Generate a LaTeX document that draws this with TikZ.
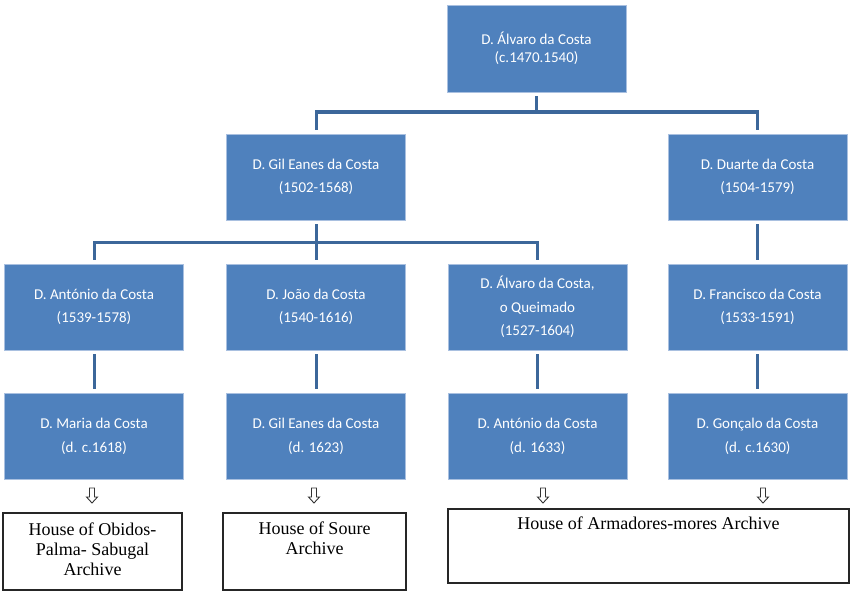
\documentclass[tikz,border=0pt]{standalone}
\usepackage{fontspec}
\setmainfont{Liberation Serif}
\newfontfamily\calib{Carlito}
\definecolor{boxblue}{HTML}{4F81BD}
\definecolor{edgeblue}{HTML}{A9C0E0}
\definecolor{linkblue}{HTML}{3C679A}
\begin{document}
\begin{tikzpicture}[x=1pt,y=-1pt,
  person/.style={fill=boxblue, draw=edgeblue, line width=0.8pt, minimum width=179pt,
    minimum height=86pt, inner sep=0pt, text=white, align=center,
    font=\calib\fontsize{15}{23.5}\selectfont},
  persontop/.style={person, minimum height=87pt, font=\calib\fontsize{15}{17.5}\selectfont},
  link/.style={draw=linkblue, line width=3pt},
  archive/.style={draw=black!85, line width=1.6pt, inner sep=0pt},
  archtext/.style={anchor=north, align=center, inner sep=0pt,
    font=\fontsize{18}{20}\selectfont},
  hollowarrow/.style={draw=black!80, line width=0.9pt, fill=white, line join=miter},
  downarrow/.pic={\draw[hollowarrow] (-2.5,0) -- (2.5,0) -- (2.5,9) -- (5.5,9) -- (0,15) -- (-5.5,9) -- (-2.5,9) -- cycle;}
]
\useasboundingbox (0,0) rectangle (850,591);

% row 1
\node[persontop] (top) at (536.5,48.5) {D. Álvaro da Costa\\(c.1470.1540)};
% row 2
\node[person] (gil) at (316,177) {D. Gil Eanes da Costa\\(1502-1568)};
\node[person] (duarte) at (757.5,177) {D. Duarte da Costa\\(1504-1579)};
% row 3
\node[person] (ant) at (94,307) {D. António da Costa\\(1539-1578)};
\node[person] (joao) at (316,307) {D. João da Costa\\(1540-1616)};
\node[person] (alv) at (537.5,307) {D. Álvaro da Costa,\\o Queimado\\(1527-1604)};
\node[person] (fran) at (757.5,307) {D. Francisco da Costa\\(1533-1591)};
% row 4
\node[person] (maria) at (94,436.5) {D. Maria da Costa\\(d. c.1618)};
\node[person] (gil2) at (316,436.5) {D. Gil Eanes da Costa\\(d. 1623)};
\node[person] (ant2) at (537.5,436.5) {D. António da Costa\\(d. 1633)};
\node[person] (gon) at (757.5,436.5) {D. Gonçalo da Costa\\(d. c.1630)};

% connectors
\draw[link] ([yshift=-4pt]top.south) -- (top.south |- 0,112);
\draw[link] ([yshift=4pt]gil.north) -- (gil.north |- 0,112) -- (duarte.north |- 0,112) -- ([yshift=4pt]duarte.north);
\draw[link] ([yshift=-4pt]gil.south) -- ([yshift=4pt]joao.north);
\draw[link] ([yshift=4pt]ant.north) -- (ant.north |- 0,242) -- (alv.north |- 0,242) -- ([yshift=4pt]alv.north);
\draw[link] ([yshift=-4pt]duarte.south) -- ([yshift=4pt]fran.north);
\draw[link] ([yshift=-4pt]ant.south) -- ([yshift=4pt]maria.north);
\draw[link] ([yshift=-4pt]joao.south) -- ([yshift=4pt]gil2.north);
\draw[link] ([yshift=-4pt]alv.south) -- ([yshift=4pt]ant2.north);
\draw[link] ([yshift=-4pt]fran.south) -- ([yshift=4pt]gon.north);

% archive boxes
\node[archive, minimum width=179pt, minimum height=77pt] (obidos) at (92.5,551.5) {};
\node[archive, minimum width=183pt, minimum height=77pt] (soure) at (314.5,551.5) {};
\node[archive, minimum width=401pt, minimum height=74pt] (armad) at (648.5,546) {};
\node[archtext] (obidostext) at ([yshift=-10pt]obidos.north) {House of Obidos-\\Palma- Sabugal\\Archive};
\node[archtext] (souretext) at ([yshift=-9pt]soure.north) {House of Soure\\Archive};
\node[archtext] (armadtext) at ([yshift=-8pt]armad.north) {House of Armadores-mores Archive};

% small hollow arrows
\pic at (92,488) {downarrow};
\pic at (314,488) {downarrow};
\pic at (543,488) {downarrow};
\pic at (763,488) {downarrow};
\end{tikzpicture}
\end{document}
